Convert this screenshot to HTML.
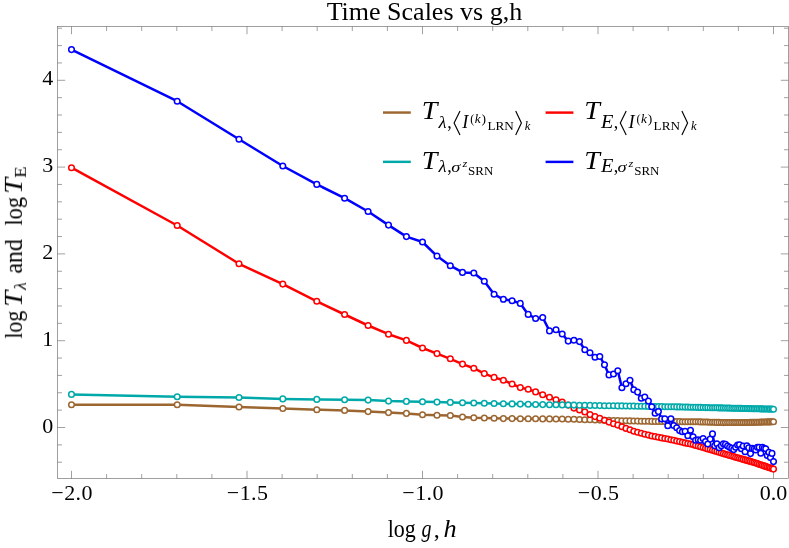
<!DOCTYPE html>
<html><head><meta charset="utf-8"><title>Time Scales vs g,h</title>
<style>
html,body{margin:0;padding:0;background:#fff;}
svg{display:block;}
text{font-family:"Liberation Serif",serif;fill:#000;}
.i{font-style:italic;}
</style></head>
<body>
<svg width="789" height="548" viewBox="0 0 789 548">
<rect width="789" height="548" fill="#fff"/>
<rect x="57.5" y="26.5" width="731.0" height="452.0" fill="none" stroke="#666" stroke-width="0.62"/>
<path d="M71.5 478.5v-7.7M71.5 26.5v7.7M106.6 478.5v-4.5M106.6 26.5v4.5M141.7 478.5v-4.5M141.7 26.5v4.5M176.8 478.5v-4.5M176.8 26.5v4.5M211.9 478.5v-4.5M211.9 26.5v4.5M247.0 478.5v-7.7M247.0 26.5v7.7M282.1 478.5v-4.5M282.1 26.5v4.5M317.2 478.5v-4.5M317.2 26.5v4.5M352.3 478.5v-4.5M352.3 26.5v4.5M387.4 478.5v-4.5M387.4 26.5v4.5M422.5 478.5v-7.7M422.5 26.5v7.7M457.6 478.5v-4.5M457.6 26.5v4.5M492.7 478.5v-4.5M492.7 26.5v4.5M527.8 478.5v-4.5M527.8 26.5v4.5M562.9 478.5v-4.5M562.9 26.5v4.5M598.0 478.5v-7.7M598.0 26.5v7.7M633.1 478.5v-4.5M633.1 26.5v4.5M668.2 478.5v-4.5M668.2 26.5v4.5M703.3 478.5v-4.5M703.3 26.5v4.5M738.4 478.5v-4.5M738.4 26.5v4.5M773.5 478.5v-7.7M773.5 26.5v7.7M57.5 462.22h4.5M788.5 462.22h-4.5M57.5 444.86h4.5M788.5 444.86h-4.5M57.5 427.5h7.7M788.5 427.5h-7.7M57.5 410.14h4.5M788.5 410.14h-4.5M57.5 392.78h4.5M788.5 392.78h-4.5M57.5 375.42h4.5M788.5 375.42h-4.5M57.5 358.06h4.5M788.5 358.06h-4.5M57.5 340.7h7.7M788.5 340.7h-7.7M57.5 323.34h4.5M788.5 323.34h-4.5M57.5 305.98h4.5M788.5 305.98h-4.5M57.5 288.62h4.5M788.5 288.62h-4.5M57.5 271.26h4.5M788.5 271.26h-4.5M57.5 253.9h7.7M788.5 253.9h-7.7M57.5 236.54h4.5M788.5 236.54h-4.5M57.5 219.18h4.5M788.5 219.18h-4.5M57.5 201.82h4.5M788.5 201.82h-4.5M57.5 184.46h4.5M788.5 184.46h-4.5M57.5 167.1h7.7M788.5 167.1h-7.7M57.5 149.74h4.5M788.5 149.74h-4.5M57.5 132.38h4.5M788.5 132.38h-4.5M57.5 115.02h4.5M788.5 115.02h-4.5M57.5 97.66h4.5M788.5 97.66h-4.5M57.5 80.3h7.7M788.5 80.3h-7.7M57.5 62.94h4.5M788.5 62.94h-4.5M57.5 45.58h4.5M788.5 45.58h-4.5M57.5 28.22h4.5M788.5 28.22h-4.5" stroke="#666" stroke-width="0.62" fill="none"/>
<g id="txt1" style="will-change:opacity" opacity="0.999">
<text x="72.1" y="499.8" font-size="22" text-anchor="middle" letter-spacing="0.4">−2.0</text>
<text x="247.6" y="499.8" font-size="22" text-anchor="middle" letter-spacing="0.4">−1.5</text>
<text x="423.1" y="499.8" font-size="22" text-anchor="middle" letter-spacing="0.4">−1.0</text>
<text x="598.6" y="499.8" font-size="22" text-anchor="middle" letter-spacing="0.4">−0.5</text>
<text x="773.5" y="499.8" font-size="22" text-anchor="middle">0.0</text>
<text x="53.3" y="432.5" font-size="22" text-anchor="end">0</text>
<text x="53.3" y="345.7" font-size="22" text-anchor="end">1</text>
<text x="53.3" y="258.9" font-size="22" text-anchor="end">2</text>
<text x="53.3" y="172.1" font-size="22" text-anchor="end">3</text>
<text x="53.3" y="85.3" font-size="22" text-anchor="end">4</text>
<text x="424.4" y="20.2" font-size="26" text-anchor="middle">Time Scales vs g,h</text>
<text transform="translate(387.66 536.60) scale(0.879 1)" font-size="25">log</text>
<text transform="translate(421.60 536.60) scale(0.801 1)" font-size="25" class="i">g</text>
<text x="433.75" y="536.50" font-size="24">,</text>
<text transform="translate(443.58 536.60) scale(1.051 1)" font-size="25" class="i">h</text>
<g transform="translate(21.9 338.4) rotate(-90)"><text transform="translate(-0.34 0.00) scale(0.876 1)" font-size="25">log</text><text transform="translate(31.50 0.00) scale(1.138 1)" font-size="25.3" class="i">T</text><text transform="translate(48.55 4.00) scale(1.066 1)" font-size="16.56" class="i">λ</text><text transform="translate(64.65 0.30) scale(0.982 1)" font-size="24.5">and</text><text transform="translate(112.75 0.00) scale(0.895 1)" font-size="25">log</text><text transform="translate(144.61 0.00) scale(1.131 1)" font-size="25.3" class="i">T</text><text transform="translate(160.60 3.60) scale(1.104 1)" font-size="17.22">E</text></g>
</g>
<polyline points="71.5,404.7 177.2,404.7 239.0,407.0 282.8,408.5 316.8,409.7 344.6,410.4 368.1,411.6 388.5,412.6 406.4,413.4 422.5,414.7 437.0,415.2 450.3,415.5 462.5,417.0 473.8,417.7 484.3,418.0 494.1,418.3 503.4,418.6 512.1,418.6 520.3,418.7 528.2,418.8 535.6,418.8 542.7,418.9 549.5,418.9 556.0,419.0 562.2,419.0 568.2,419.2 573.9,419.3 579.5,419.5 584.8,419.7 590.0,419.8 595.0,420.0 599.8,420.1 604.5,420.2 609.0,420.4 613.5,420.5 617.8,420.6 621.9,420.7 626.0,420.8 630.0,420.9 633.8,421.0 637.6,421.1 641.3,421.2 644.8,421.3 648.4,421.3 651.8,421.4 655.1,421.5 658.4,421.5 661.6,421.5 664.8,421.5 667.8,421.6 670.9,421.6 673.8,421.6 676.7,421.6 679.6,421.6 682.4,421.7 685.1,421.7 687.8,421.7 690.5,421.7 693.1,421.8 695.6,421.8 698.2,421.8 700.6,421.9 703.1,422.0 705.5,422.0 707.8,422.1 710.2,422.2 712.5,422.2 714.7,422.3 716.9,422.4 719.1,422.4 721.3,422.5 723.4,422.6 725.5,422.5 727.6,422.5 729.6,422.5 731.7,422.5 733.7,422.5 735.6,422.5 737.6,422.5 739.5,422.5 741.4,422.5 743.2,422.5 745.1,422.5 746.9,422.5 748.7,422.5 750.5,422.4 752.3,422.4 754.0,422.3 755.7,422.3 757.4,422.2 759.1,422.2 760.8,422.1 762.4,422.1 764.1,422.0 765.7,422.0 767.3,421.9 768.9,421.9 770.4,421.9 772.0,421.8 773.5,421.8" fill="none" stroke="#9c6631" stroke-width="2.5" stroke-linejoin="round"/>
<g fill="#fff" stroke="#9c6631" stroke-width="1.5">
<circle cx="71.5" cy="404.7" r="2.8"/>
<circle cx="177.2" cy="404.7" r="2.8"/>
<circle cx="239.0" cy="407.0" r="2.8"/>
<circle cx="282.8" cy="408.5" r="2.8"/>
<circle cx="316.8" cy="409.7" r="2.8"/>
<circle cx="344.6" cy="410.4" r="2.8"/>
<circle cx="368.1" cy="411.6" r="2.8"/>
<circle cx="388.5" cy="412.6" r="2.8"/>
<circle cx="406.4" cy="413.4" r="2.8"/>
<circle cx="422.5" cy="414.7" r="2.8"/>
<circle cx="437.0" cy="415.2" r="2.8"/>
<circle cx="450.3" cy="415.5" r="2.8"/>
<circle cx="462.5" cy="417.0" r="2.8"/>
<circle cx="473.8" cy="417.7" r="2.8"/>
<circle cx="484.3" cy="418.0" r="2.8"/>
<circle cx="494.1" cy="418.3" r="2.8"/>
<circle cx="503.4" cy="418.6" r="2.8"/>
<circle cx="512.1" cy="418.6" r="2.8"/>
<circle cx="520.3" cy="418.7" r="2.8"/>
<circle cx="528.2" cy="418.8" r="2.8"/>
<circle cx="535.6" cy="418.8" r="2.8"/>
<circle cx="542.7" cy="418.9" r="2.8"/>
<circle cx="549.5" cy="418.9" r="2.8"/>
<circle cx="556.0" cy="419.0" r="2.8"/>
<circle cx="562.2" cy="419.0" r="2.8"/>
<circle cx="568.2" cy="419.2" r="2.8"/>
<circle cx="573.9" cy="419.3" r="2.8"/>
<circle cx="579.5" cy="419.5" r="2.8"/>
<circle cx="584.8" cy="419.7" r="2.8"/>
<circle cx="590.0" cy="419.8" r="2.8"/>
<circle cx="595.0" cy="420.0" r="2.8"/>
<circle cx="599.8" cy="420.1" r="2.8"/>
<circle cx="604.5" cy="420.2" r="2.8"/>
<circle cx="609.0" cy="420.4" r="2.8"/>
<circle cx="613.5" cy="420.5" r="2.8"/>
<circle cx="617.8" cy="420.6" r="2.8"/>
<circle cx="621.9" cy="420.7" r="2.8"/>
<circle cx="626.0" cy="420.8" r="2.8"/>
<circle cx="630.0" cy="420.9" r="2.8"/>
<circle cx="633.8" cy="421.0" r="2.8"/>
<circle cx="637.6" cy="421.1" r="2.8"/>
<circle cx="641.3" cy="421.2" r="2.8"/>
<circle cx="644.8" cy="421.3" r="2.8"/>
<circle cx="648.4" cy="421.3" r="2.8"/>
<circle cx="651.8" cy="421.4" r="2.8"/>
<circle cx="655.1" cy="421.5" r="2.8"/>
<circle cx="658.4" cy="421.5" r="2.8"/>
<circle cx="661.6" cy="421.5" r="2.8"/>
<circle cx="664.8" cy="421.5" r="2.8"/>
<circle cx="667.8" cy="421.6" r="2.8"/>
<circle cx="670.9" cy="421.6" r="2.8"/>
<circle cx="673.8" cy="421.6" r="2.8"/>
<circle cx="676.7" cy="421.6" r="2.8"/>
<circle cx="679.6" cy="421.6" r="2.8"/>
<circle cx="682.4" cy="421.7" r="2.8"/>
<circle cx="685.1" cy="421.7" r="2.8"/>
<circle cx="687.8" cy="421.7" r="2.8"/>
<circle cx="690.5" cy="421.7" r="2.8"/>
<circle cx="693.1" cy="421.8" r="2.8"/>
<circle cx="695.6" cy="421.8" r="2.8"/>
<circle cx="698.2" cy="421.8" r="2.8"/>
<circle cx="700.6" cy="421.9" r="2.8"/>
<circle cx="703.1" cy="422.0" r="2.8"/>
<circle cx="705.5" cy="422.0" r="2.8"/>
<circle cx="707.8" cy="422.1" r="2.8"/>
<circle cx="710.2" cy="422.2" r="2.8"/>
<circle cx="712.5" cy="422.2" r="2.8"/>
<circle cx="714.7" cy="422.3" r="2.8"/>
<circle cx="716.9" cy="422.4" r="2.8"/>
<circle cx="719.1" cy="422.4" r="2.8"/>
<circle cx="721.3" cy="422.5" r="2.8"/>
<circle cx="723.4" cy="422.6" r="2.8"/>
<circle cx="725.5" cy="422.5" r="2.8"/>
<circle cx="727.6" cy="422.5" r="2.8"/>
<circle cx="729.6" cy="422.5" r="2.8"/>
<circle cx="731.7" cy="422.5" r="2.8"/>
<circle cx="733.7" cy="422.5" r="2.8"/>
<circle cx="735.6" cy="422.5" r="2.8"/>
<circle cx="737.6" cy="422.5" r="2.8"/>
<circle cx="739.5" cy="422.5" r="2.8"/>
<circle cx="741.4" cy="422.5" r="2.8"/>
<circle cx="743.2" cy="422.5" r="2.8"/>
<circle cx="745.1" cy="422.5" r="2.8"/>
<circle cx="746.9" cy="422.5" r="2.8"/>
<circle cx="748.7" cy="422.5" r="2.8"/>
<circle cx="750.5" cy="422.4" r="2.8"/>
<circle cx="752.3" cy="422.4" r="2.8"/>
<circle cx="754.0" cy="422.3" r="2.8"/>
<circle cx="755.7" cy="422.3" r="2.8"/>
<circle cx="757.4" cy="422.2" r="2.8"/>
<circle cx="759.1" cy="422.2" r="2.8"/>
<circle cx="760.8" cy="422.1" r="2.8"/>
<circle cx="762.4" cy="422.1" r="2.8"/>
<circle cx="764.1" cy="422.0" r="2.8"/>
<circle cx="765.7" cy="422.0" r="2.8"/>
<circle cx="767.3" cy="421.9" r="2.8"/>
<circle cx="768.9" cy="421.9" r="2.8"/>
<circle cx="770.4" cy="421.9" r="2.8"/>
<circle cx="772.0" cy="421.8" r="2.8"/>
<circle cx="773.5" cy="421.8" r="2.8"/>
</g>
<polyline points="71.5,167.7 177.2,225.5 239.0,263.8 282.8,284.1 316.8,301.3 344.6,314.5 368.1,325.5 388.5,334.2 406.4,340.4 422.5,348.0 437.0,353.6 450.3,358.8 462.5,364.1 473.8,368.2 484.3,373.6 494.1,377.4 503.4,380.2 512.1,384.0 520.3,387.6 528.2,389.3 535.6,391.9 542.7,394.7 549.5,397.3 556.0,399.7 562.2,402.0 568.2,405.1 573.9,408.1 579.5,409.9 584.8,411.9 590.0,414.6 595.0,416.6 599.8,418.2 604.5,420.2 609.0,422.1 613.5,423.7 617.8,425.1 621.9,426.7 626.0,428.4 630.0,429.8 633.8,431.2 637.6,432.2 641.3,433.2 644.8,434.2 648.4,435.1 651.8,436.0 655.1,436.6 658.4,437.3 661.6,437.9 664.8,438.5 667.8,439.0 670.9,439.7 673.8,440.3 676.7,441.0 679.6,441.6 682.4,442.3 685.1,442.9 687.8,443.5 690.5,444.0 693.1,444.6 695.6,445.4 698.2,446.1 700.6,446.8 703.1,447.5 705.5,448.3 707.8,448.9 710.2,449.6 712.5,450.3 714.7,451.0 716.9,451.6 719.1,452.3 721.3,452.9 723.4,453.6 725.5,454.2 727.6,454.8 729.6,455.4 731.7,456.0 733.7,456.6 735.6,457.2 737.6,457.7 739.5,458.3 741.4,458.8 743.2,459.4 745.1,459.9 746.9,460.4 748.7,460.9 750.5,461.4 752.3,462.0 754.0,462.5 755.7,463.0 757.4,463.6 759.1,464.2 760.8,464.7 762.4,465.3 764.1,465.9 765.7,466.4 767.3,467.0 768.9,467.5 770.4,468.0 772.0,468.6 773.5,469.1" fill="none" stroke="#ff0000" stroke-width="2.5" stroke-linejoin="round"/>
<g fill="#fff" stroke="#ff0000" stroke-width="1.5">
<circle cx="71.5" cy="167.7" r="2.8"/>
<circle cx="177.2" cy="225.5" r="2.8"/>
<circle cx="239.0" cy="263.8" r="2.8"/>
<circle cx="282.8" cy="284.1" r="2.8"/>
<circle cx="316.8" cy="301.3" r="2.8"/>
<circle cx="344.6" cy="314.5" r="2.8"/>
<circle cx="368.1" cy="325.5" r="2.8"/>
<circle cx="388.5" cy="334.2" r="2.8"/>
<circle cx="406.4" cy="340.4" r="2.8"/>
<circle cx="422.5" cy="348.0" r="2.8"/>
<circle cx="437.0" cy="353.6" r="2.8"/>
<circle cx="450.3" cy="358.8" r="2.8"/>
<circle cx="462.5" cy="364.1" r="2.8"/>
<circle cx="473.8" cy="368.2" r="2.8"/>
<circle cx="484.3" cy="373.6" r="2.8"/>
<circle cx="494.1" cy="377.4" r="2.8"/>
<circle cx="503.4" cy="380.2" r="2.8"/>
<circle cx="512.1" cy="384.0" r="2.8"/>
<circle cx="520.3" cy="387.6" r="2.8"/>
<circle cx="528.2" cy="389.3" r="2.8"/>
<circle cx="535.6" cy="391.9" r="2.8"/>
<circle cx="542.7" cy="394.7" r="2.8"/>
<circle cx="549.5" cy="397.3" r="2.8"/>
<circle cx="556.0" cy="399.7" r="2.8"/>
<circle cx="562.2" cy="402.0" r="2.8"/>
<circle cx="568.2" cy="405.1" r="2.8"/>
<circle cx="573.9" cy="408.1" r="2.8"/>
<circle cx="579.5" cy="409.9" r="2.8"/>
<circle cx="584.8" cy="411.9" r="2.8"/>
<circle cx="590.0" cy="414.6" r="2.8"/>
<circle cx="595.0" cy="416.6" r="2.8"/>
<circle cx="599.8" cy="418.2" r="2.8"/>
<circle cx="604.5" cy="420.2" r="2.8"/>
<circle cx="609.0" cy="422.1" r="2.8"/>
<circle cx="613.5" cy="423.7" r="2.8"/>
<circle cx="617.8" cy="425.1" r="2.8"/>
<circle cx="621.9" cy="426.7" r="2.8"/>
<circle cx="626.0" cy="428.4" r="2.8"/>
<circle cx="630.0" cy="429.8" r="2.8"/>
<circle cx="633.8" cy="431.2" r="2.8"/>
<circle cx="637.6" cy="432.2" r="2.8"/>
<circle cx="641.3" cy="433.2" r="2.8"/>
<circle cx="644.8" cy="434.2" r="2.8"/>
<circle cx="648.4" cy="435.1" r="2.8"/>
<circle cx="651.8" cy="436.0" r="2.8"/>
<circle cx="655.1" cy="436.6" r="2.8"/>
<circle cx="658.4" cy="437.3" r="2.8"/>
<circle cx="661.6" cy="437.9" r="2.8"/>
<circle cx="664.8" cy="438.5" r="2.8"/>
<circle cx="667.8" cy="439.0" r="2.8"/>
<circle cx="670.9" cy="439.7" r="2.8"/>
<circle cx="673.8" cy="440.3" r="2.8"/>
<circle cx="676.7" cy="441.0" r="2.8"/>
<circle cx="679.6" cy="441.6" r="2.8"/>
<circle cx="682.4" cy="442.3" r="2.8"/>
<circle cx="685.1" cy="442.9" r="2.8"/>
<circle cx="687.8" cy="443.5" r="2.8"/>
<circle cx="690.5" cy="444.0" r="2.8"/>
<circle cx="693.1" cy="444.6" r="2.8"/>
<circle cx="695.6" cy="445.4" r="2.8"/>
<circle cx="698.2" cy="446.1" r="2.8"/>
<circle cx="700.6" cy="446.8" r="2.8"/>
<circle cx="703.1" cy="447.5" r="2.8"/>
<circle cx="705.5" cy="448.3" r="2.8"/>
<circle cx="707.8" cy="448.9" r="2.8"/>
<circle cx="710.2" cy="449.6" r="2.8"/>
<circle cx="712.5" cy="450.3" r="2.8"/>
<circle cx="714.7" cy="451.0" r="2.8"/>
<circle cx="716.9" cy="451.6" r="2.8"/>
<circle cx="719.1" cy="452.3" r="2.8"/>
<circle cx="721.3" cy="452.9" r="2.8"/>
<circle cx="723.4" cy="453.6" r="2.8"/>
<circle cx="725.5" cy="454.2" r="2.8"/>
<circle cx="727.6" cy="454.8" r="2.8"/>
<circle cx="729.6" cy="455.4" r="2.8"/>
<circle cx="731.7" cy="456.0" r="2.8"/>
<circle cx="733.7" cy="456.6" r="2.8"/>
<circle cx="735.6" cy="457.2" r="2.8"/>
<circle cx="737.6" cy="457.7" r="2.8"/>
<circle cx="739.5" cy="458.3" r="2.8"/>
<circle cx="741.4" cy="458.8" r="2.8"/>
<circle cx="743.2" cy="459.4" r="2.8"/>
<circle cx="745.1" cy="459.9" r="2.8"/>
<circle cx="746.9" cy="460.4" r="2.8"/>
<circle cx="748.7" cy="460.9" r="2.8"/>
<circle cx="750.5" cy="461.4" r="2.8"/>
<circle cx="752.3" cy="462.0" r="2.8"/>
<circle cx="754.0" cy="462.5" r="2.8"/>
<circle cx="755.7" cy="463.0" r="2.8"/>
<circle cx="757.4" cy="463.6" r="2.8"/>
<circle cx="759.1" cy="464.2" r="2.8"/>
<circle cx="760.8" cy="464.7" r="2.8"/>
<circle cx="762.4" cy="465.3" r="2.8"/>
<circle cx="764.1" cy="465.9" r="2.8"/>
<circle cx="765.7" cy="466.4" r="2.8"/>
<circle cx="767.3" cy="467.0" r="2.8"/>
<circle cx="768.9" cy="467.5" r="2.8"/>
<circle cx="770.4" cy="468.0" r="2.8"/>
<circle cx="772.0" cy="468.6" r="2.8"/>
<circle cx="773.5" cy="469.1" r="2.8"/>
</g>
<polyline points="71.5,394.4 177.2,396.7 239.0,397.5 282.8,398.9 316.8,399.4 344.6,399.8 368.1,400.1 388.5,401.1 406.4,401.4 422.5,401.7 437.0,402.1 450.3,402.4 462.5,402.7 473.8,403.0 484.3,403.3 494.1,403.5 503.4,403.7 512.1,403.9 520.3,404.1 528.2,404.3 535.6,404.5 542.7,404.6 549.5,404.7 556.0,404.8 562.2,404.9 568.2,405.0 573.9,405.1 579.5,405.2 584.8,405.3 590.0,405.4 595.0,405.5 599.8,405.6 604.5,405.7 609.0,405.7 613.5,405.8 617.8,405.9 621.9,405.9 626.0,406.0 630.0,406.1 633.8,406.1 637.6,406.2 641.3,406.3 644.8,406.3 648.4,406.4 651.8,406.5 655.1,406.5 658.4,406.6 661.6,406.6 664.8,406.7 667.8,406.7 670.9,406.8 673.8,406.8 676.7,406.9 679.6,406.9 682.4,407.0 685.1,407.1 687.8,407.1 690.5,407.2 693.1,407.3 695.6,407.3 698.2,407.4 700.6,407.4 703.1,407.5 705.5,407.6 707.8,407.6 710.2,407.7 712.5,407.7 714.7,407.8 716.9,407.8 719.1,407.9 721.3,407.9 723.4,408.0 725.5,408.0 727.6,408.1 729.6,408.1 731.7,408.2 733.7,408.2 735.6,408.3 737.6,408.3 739.5,408.4 741.4,408.4 743.2,408.5 745.1,408.5 746.9,408.5 748.7,408.6 750.5,408.6 752.3,408.7 754.0,408.7 755.7,408.8 757.4,408.8 759.1,408.8 760.8,408.9 762.4,408.9 764.1,409.0 765.7,409.0 767.3,409.0 768.9,409.1 770.4,409.1 772.0,409.1 773.5,409.2" fill="none" stroke="#00a9a9" stroke-width="2.5" stroke-linejoin="round"/>
<g fill="#fff" stroke="#00a9a9" stroke-width="1.5">
<circle cx="71.5" cy="394.4" r="2.8"/>
<circle cx="177.2" cy="396.7" r="2.8"/>
<circle cx="239.0" cy="397.5" r="2.8"/>
<circle cx="282.8" cy="398.9" r="2.8"/>
<circle cx="316.8" cy="399.4" r="2.8"/>
<circle cx="344.6" cy="399.8" r="2.8"/>
<circle cx="368.1" cy="400.1" r="2.8"/>
<circle cx="388.5" cy="401.1" r="2.8"/>
<circle cx="406.4" cy="401.4" r="2.8"/>
<circle cx="422.5" cy="401.7" r="2.8"/>
<circle cx="437.0" cy="402.1" r="2.8"/>
<circle cx="450.3" cy="402.4" r="2.8"/>
<circle cx="462.5" cy="402.7" r="2.8"/>
<circle cx="473.8" cy="403.0" r="2.8"/>
<circle cx="484.3" cy="403.3" r="2.8"/>
<circle cx="494.1" cy="403.5" r="2.8"/>
<circle cx="503.4" cy="403.7" r="2.8"/>
<circle cx="512.1" cy="403.9" r="2.8"/>
<circle cx="520.3" cy="404.1" r="2.8"/>
<circle cx="528.2" cy="404.3" r="2.8"/>
<circle cx="535.6" cy="404.5" r="2.8"/>
<circle cx="542.7" cy="404.6" r="2.8"/>
<circle cx="549.5" cy="404.7" r="2.8"/>
<circle cx="556.0" cy="404.8" r="2.8"/>
<circle cx="562.2" cy="404.9" r="2.8"/>
<circle cx="568.2" cy="405.0" r="2.8"/>
<circle cx="573.9" cy="405.1" r="2.8"/>
<circle cx="579.5" cy="405.2" r="2.8"/>
<circle cx="584.8" cy="405.3" r="2.8"/>
<circle cx="590.0" cy="405.4" r="2.8"/>
<circle cx="595.0" cy="405.5" r="2.8"/>
<circle cx="599.8" cy="405.6" r="2.8"/>
<circle cx="604.5" cy="405.7" r="2.8"/>
<circle cx="609.0" cy="405.7" r="2.8"/>
<circle cx="613.5" cy="405.8" r="2.8"/>
<circle cx="617.8" cy="405.9" r="2.8"/>
<circle cx="621.9" cy="405.9" r="2.8"/>
<circle cx="626.0" cy="406.0" r="2.8"/>
<circle cx="630.0" cy="406.1" r="2.8"/>
<circle cx="633.8" cy="406.1" r="2.8"/>
<circle cx="637.6" cy="406.2" r="2.8"/>
<circle cx="641.3" cy="406.3" r="2.8"/>
<circle cx="644.8" cy="406.3" r="2.8"/>
<circle cx="648.4" cy="406.4" r="2.8"/>
<circle cx="651.8" cy="406.5" r="2.8"/>
<circle cx="655.1" cy="406.5" r="2.8"/>
<circle cx="658.4" cy="406.6" r="2.8"/>
<circle cx="661.6" cy="406.6" r="2.8"/>
<circle cx="664.8" cy="406.7" r="2.8"/>
<circle cx="667.8" cy="406.7" r="2.8"/>
<circle cx="670.9" cy="406.8" r="2.8"/>
<circle cx="673.8" cy="406.8" r="2.8"/>
<circle cx="676.7" cy="406.9" r="2.8"/>
<circle cx="679.6" cy="406.9" r="2.8"/>
<circle cx="682.4" cy="407.0" r="2.8"/>
<circle cx="685.1" cy="407.1" r="2.8"/>
<circle cx="687.8" cy="407.1" r="2.8"/>
<circle cx="690.5" cy="407.2" r="2.8"/>
<circle cx="693.1" cy="407.3" r="2.8"/>
<circle cx="695.6" cy="407.3" r="2.8"/>
<circle cx="698.2" cy="407.4" r="2.8"/>
<circle cx="700.6" cy="407.4" r="2.8"/>
<circle cx="703.1" cy="407.5" r="2.8"/>
<circle cx="705.5" cy="407.6" r="2.8"/>
<circle cx="707.8" cy="407.6" r="2.8"/>
<circle cx="710.2" cy="407.7" r="2.8"/>
<circle cx="712.5" cy="407.7" r="2.8"/>
<circle cx="714.7" cy="407.8" r="2.8"/>
<circle cx="716.9" cy="407.8" r="2.8"/>
<circle cx="719.1" cy="407.9" r="2.8"/>
<circle cx="721.3" cy="407.9" r="2.8"/>
<circle cx="723.4" cy="408.0" r="2.8"/>
<circle cx="725.5" cy="408.0" r="2.8"/>
<circle cx="727.6" cy="408.1" r="2.8"/>
<circle cx="729.6" cy="408.1" r="2.8"/>
<circle cx="731.7" cy="408.2" r="2.8"/>
<circle cx="733.7" cy="408.2" r="2.8"/>
<circle cx="735.6" cy="408.3" r="2.8"/>
<circle cx="737.6" cy="408.3" r="2.8"/>
<circle cx="739.5" cy="408.4" r="2.8"/>
<circle cx="741.4" cy="408.4" r="2.8"/>
<circle cx="743.2" cy="408.5" r="2.8"/>
<circle cx="745.1" cy="408.5" r="2.8"/>
<circle cx="746.9" cy="408.5" r="2.8"/>
<circle cx="748.7" cy="408.6" r="2.8"/>
<circle cx="750.5" cy="408.6" r="2.8"/>
<circle cx="752.3" cy="408.7" r="2.8"/>
<circle cx="754.0" cy="408.7" r="2.8"/>
<circle cx="755.7" cy="408.8" r="2.8"/>
<circle cx="757.4" cy="408.8" r="2.8"/>
<circle cx="759.1" cy="408.8" r="2.8"/>
<circle cx="760.8" cy="408.9" r="2.8"/>
<circle cx="762.4" cy="408.9" r="2.8"/>
<circle cx="764.1" cy="409.0" r="2.8"/>
<circle cx="765.7" cy="409.0" r="2.8"/>
<circle cx="767.3" cy="409.0" r="2.8"/>
<circle cx="768.9" cy="409.1" r="2.8"/>
<circle cx="770.4" cy="409.1" r="2.8"/>
<circle cx="772.0" cy="409.1" r="2.8"/>
<circle cx="773.5" cy="409.2" r="2.8"/>
</g>
<polyline points="71.5,49.6 177.2,101.2 239.0,139.3 282.8,166.0 316.8,184.4 344.6,198.2 368.1,211.5 388.5,225.1 406.4,236.6 422.5,242.0 437.0,256.1 450.3,265.7 462.5,272.4 473.8,273.0 484.3,281.3 494.1,294.3 503.4,299.3 512.1,300.7 520.3,303.4 528.2,314.4 535.6,318.5 542.7,317.5 549.5,330.9 556.0,329.8 562.2,334.0 568.2,341.1 573.9,340.2 579.5,341.6 584.8,349.8 590.0,352.7 595.0,357.3 599.8,356.5 604.5,364.7 609.0,374.9 613.5,374.0 617.8,370.8 621.9,387.7 626.0,383.8 630.0,380.3 633.8,389.8 637.6,392.1 641.3,398.3 644.8,397.0 648.4,401.1 651.8,406.7 655.1,413.2 658.4,411.6 661.6,418.9 664.8,418.8 667.8,425.7 670.9,418.8 673.8,425.5 676.7,427.7 679.6,430.6 682.4,431.7 685.1,431.3 687.8,435.7 690.5,430.2 693.1,436.8 695.6,440.2 698.2,439.8 700.6,440.2 703.1,438.6 705.5,441.6 707.8,444.0 710.2,439.1 712.5,433.9 714.7,445.8 716.9,443.8 719.1,447.8 721.3,445.7 723.4,443.8 725.5,444.2 727.6,446.0 729.6,447.3 731.7,448.4 733.7,449.6 735.6,447.3 737.6,445.1 739.5,444.8 741.4,448.7 743.2,446.0 745.1,451.8 746.9,445.7 748.7,447.8 750.5,453.6 752.3,448.4 754.0,449.0 755.7,450.0 757.4,447.3 759.1,447.2 760.8,453.2 762.4,447.3 764.1,448.2 765.7,448.7 767.3,455.4 768.9,452.3 770.4,457.6 772.0,453.4 773.5,461.6" fill="none" stroke="#0000ff" stroke-width="2.5" stroke-linejoin="round"/>
<g fill="#fff" stroke="#0000ff" stroke-width="1.5">
<circle cx="71.5" cy="49.6" r="2.8"/>
<circle cx="177.2" cy="101.2" r="2.8"/>
<circle cx="239.0" cy="139.3" r="2.8"/>
<circle cx="282.8" cy="166.0" r="2.8"/>
<circle cx="316.8" cy="184.4" r="2.8"/>
<circle cx="344.6" cy="198.2" r="2.8"/>
<circle cx="368.1" cy="211.5" r="2.8"/>
<circle cx="388.5" cy="225.1" r="2.8"/>
<circle cx="406.4" cy="236.6" r="2.8"/>
<circle cx="422.5" cy="242.0" r="2.8"/>
<circle cx="437.0" cy="256.1" r="2.8"/>
<circle cx="450.3" cy="265.7" r="2.8"/>
<circle cx="462.5" cy="272.4" r="2.8"/>
<circle cx="473.8" cy="273.0" r="2.8"/>
<circle cx="484.3" cy="281.3" r="2.8"/>
<circle cx="494.1" cy="294.3" r="2.8"/>
<circle cx="503.4" cy="299.3" r="2.8"/>
<circle cx="512.1" cy="300.7" r="2.8"/>
<circle cx="520.3" cy="303.4" r="2.8"/>
<circle cx="528.2" cy="314.4" r="2.8"/>
<circle cx="535.6" cy="318.5" r="2.8"/>
<circle cx="542.7" cy="317.5" r="2.8"/>
<circle cx="549.5" cy="330.9" r="2.8"/>
<circle cx="556.0" cy="329.8" r="2.8"/>
<circle cx="562.2" cy="334.0" r="2.8"/>
<circle cx="568.2" cy="341.1" r="2.8"/>
<circle cx="573.9" cy="340.2" r="2.8"/>
<circle cx="579.5" cy="341.6" r="2.8"/>
<circle cx="584.8" cy="349.8" r="2.8"/>
<circle cx="590.0" cy="352.7" r="2.8"/>
<circle cx="595.0" cy="357.3" r="2.8"/>
<circle cx="599.8" cy="356.5" r="2.8"/>
<circle cx="604.5" cy="364.7" r="2.8"/>
<circle cx="609.0" cy="374.9" r="2.8"/>
<circle cx="613.5" cy="374.0" r="2.8"/>
<circle cx="617.8" cy="370.8" r="2.8"/>
<circle cx="621.9" cy="387.7" r="2.8"/>
<circle cx="626.0" cy="383.8" r="2.8"/>
<circle cx="630.0" cy="380.3" r="2.8"/>
<circle cx="633.8" cy="389.8" r="2.8"/>
<circle cx="637.6" cy="392.1" r="2.8"/>
<circle cx="641.3" cy="398.3" r="2.8"/>
<circle cx="644.8" cy="397.0" r="2.8"/>
<circle cx="648.4" cy="401.1" r="2.8"/>
<circle cx="651.8" cy="406.7" r="2.8"/>
<circle cx="655.1" cy="413.2" r="2.8"/>
<circle cx="658.4" cy="411.6" r="2.8"/>
<circle cx="661.6" cy="418.9" r="2.8"/>
<circle cx="664.8" cy="418.8" r="2.8"/>
<circle cx="667.8" cy="425.7" r="2.8"/>
<circle cx="670.9" cy="418.8" r="2.8"/>
<circle cx="673.8" cy="425.5" r="2.8"/>
<circle cx="676.7" cy="427.7" r="2.8"/>
<circle cx="679.6" cy="430.6" r="2.8"/>
<circle cx="682.4" cy="431.7" r="2.8"/>
<circle cx="685.1" cy="431.3" r="2.8"/>
<circle cx="687.8" cy="435.7" r="2.8"/>
<circle cx="690.5" cy="430.2" r="2.8"/>
<circle cx="693.1" cy="436.8" r="2.8"/>
<circle cx="695.6" cy="440.2" r="2.8"/>
<circle cx="698.2" cy="439.8" r="2.8"/>
<circle cx="700.6" cy="440.2" r="2.8"/>
<circle cx="703.1" cy="438.6" r="2.8"/>
<circle cx="705.5" cy="441.6" r="2.8"/>
<circle cx="707.8" cy="444.0" r="2.8"/>
<circle cx="710.2" cy="439.1" r="2.8"/>
<circle cx="712.5" cy="433.9" r="2.8"/>
<circle cx="714.7" cy="445.8" r="2.8"/>
<circle cx="716.9" cy="443.8" r="2.8"/>
<circle cx="719.1" cy="447.8" r="2.8"/>
<circle cx="721.3" cy="445.7" r="2.8"/>
<circle cx="723.4" cy="443.8" r="2.8"/>
<circle cx="725.5" cy="444.2" r="2.8"/>
<circle cx="727.6" cy="446.0" r="2.8"/>
<circle cx="729.6" cy="447.3" r="2.8"/>
<circle cx="731.7" cy="448.4" r="2.8"/>
<circle cx="733.7" cy="449.6" r="2.8"/>
<circle cx="735.6" cy="447.3" r="2.8"/>
<circle cx="737.6" cy="445.1" r="2.8"/>
<circle cx="739.5" cy="444.8" r="2.8"/>
<circle cx="741.4" cy="448.7" r="2.8"/>
<circle cx="743.2" cy="446.0" r="2.8"/>
<circle cx="745.1" cy="451.8" r="2.8"/>
<circle cx="746.9" cy="445.7" r="2.8"/>
<circle cx="748.7" cy="447.8" r="2.8"/>
<circle cx="750.5" cy="453.6" r="2.8"/>
<circle cx="752.3" cy="448.4" r="2.8"/>
<circle cx="754.0" cy="449.0" r="2.8"/>
<circle cx="755.7" cy="450.0" r="2.8"/>
<circle cx="757.4" cy="447.3" r="2.8"/>
<circle cx="759.1" cy="447.2" r="2.8"/>
<circle cx="760.8" cy="453.2" r="2.8"/>
<circle cx="762.4" cy="447.3" r="2.8"/>
<circle cx="764.1" cy="448.2" r="2.8"/>
<circle cx="765.7" cy="448.7" r="2.8"/>
<circle cx="767.3" cy="455.4" r="2.8"/>
<circle cx="768.9" cy="452.3" r="2.8"/>
<circle cx="770.4" cy="457.6" r="2.8"/>
<circle cx="772.0" cy="453.4" r="2.8"/>
<circle cx="773.5" cy="461.6" r="2.8"/>
</g>
<g id="txt2" opacity="0.999">
<path d="M383.0 112.55h27.8" stroke="#9c6631" stroke-width="2.45" fill="none"/>
<path d="M383.0 161.85h27.8" stroke="#00a9a9" stroke-width="2.45" fill="none"/>
<path d="M545.6 112.6h27.8" stroke="#ff0000" stroke-width="2.45" fill="none"/>
<path d="M545.6 161.9h27.8" stroke="#0000ff" stroke-width="2.45" fill="none"/>
<text transform="translate(421.64 119.00) scale(1.138 1)" font-size="24.69" class="i">T</text>
<text transform="translate(438.48 127.70) scale(1.101 1)" font-size="16.83" class="i">λ</text>
<text x="447.24" y="127.70" font-size="18">,</text>
<path d="M460.00 111.1L454.10 123.05L460.00 135.0" fill="none" stroke="#000" stroke-width="1.15"/>
<text transform="translate(462.19 127.70) scale(0.975 1)" font-size="18.9" class="i">I</text>
<text transform="translate(470.22 122.90) scale(0.967 1)" font-size="12.5">(</text>
<text transform="translate(474.69 122.90) scale(1.108 1)" font-size="11.95" class="i">k</text>
<text transform="translate(481.58 122.90) scale(1.084 1)" font-size="12.5">)</text>
<text transform="translate(487.39 129.70) scale(1.030 1)" font-size="12.8">LRN</text>
<path d="M515.70 111.1L521.40 123.05L515.70 135.0" fill="none" stroke="#000" stroke-width="1.15"/>
<text transform="translate(524.70 129.70) scale(1.053 1)" font-size="11.95" class="i">k</text>
<text transform="translate(421.64 168.50) scale(1.138 1)" font-size="24.69" class="i">T</text>
<text transform="translate(438.48 171.90) scale(1.110 1)" font-size="16.7" class="i">λ</text>
<text x="447.24" y="171.90" font-size="18">,</text>
<text transform="translate(451.31 171.90) scale(1.218 1)" font-size="15.13" class="i">σ</text>
<text transform="translate(462.39 166.60) scale(1.110 1)" font-size="11.09" class="i">z</text>
<text x="468.09" y="174.70" font-size="12.95">SRN</text>
<text transform="translate(584.14 119.00) scale(1.138 1)" font-size="24.69" class="i">T</text>
<text transform="translate(600.92 127.70) scale(1.075 1)" font-size="18.9" class="i">E</text>
<text x="613.74" y="127.70" font-size="18">,</text>
<path d="M626.20 111.1L620.30 123.05L626.20 135.0" fill="none" stroke="#000" stroke-width="1.15"/>
<text transform="translate(628.39 127.70) scale(0.975 1)" font-size="18.9" class="i">I</text>
<text transform="translate(636.42 122.90) scale(0.967 1)" font-size="12.5">(</text>
<text transform="translate(640.89 122.90) scale(1.108 1)" font-size="11.95" class="i">k</text>
<text transform="translate(647.78 122.90) scale(1.084 1)" font-size="12.5">)</text>
<text transform="translate(653.59 129.70) scale(1.030 1)" font-size="12.8">LRN</text>
<path d="M681.90 111.1L687.60 123.05L681.90 135.0" fill="none" stroke="#000" stroke-width="1.15"/>
<text transform="translate(690.90 129.70) scale(1.053 1)" font-size="11.95" class="i">k</text>
<text transform="translate(584.14 168.50) scale(1.138 1)" font-size="24.69" class="i">T</text>
<text transform="translate(600.92 171.90) scale(1.075 1)" font-size="18.9" class="i">E</text>
<text x="613.74" y="171.90" font-size="18">,</text>
<text transform="translate(617.51 171.90) scale(1.218 1)" font-size="15.13" class="i">σ</text>
<text transform="translate(628.59 166.60) scale(1.110 1)" font-size="11.09" class="i">z</text>
<text x="634.29" y="174.70" font-size="12.95">SRN</text>
</g>
</svg>
</body></html>
